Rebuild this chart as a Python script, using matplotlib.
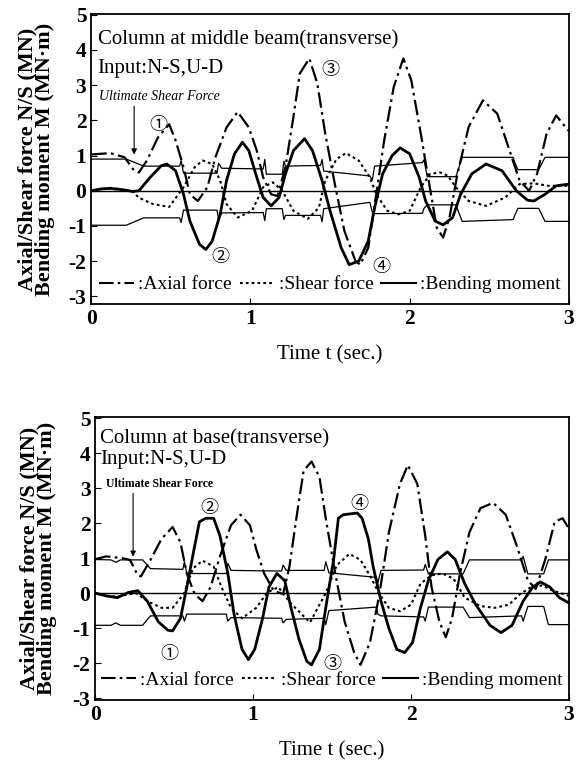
import matplotlib
matplotlib.use("Agg")
import matplotlib.pyplot as plt
from matplotlib.lines import Line2D

plt.rcParams['font.family'] = ['Liberation Serif', 'Noto Sans CJK JP', 'DejaVu Sans']
plt.rcParams['axes.unicode_minus'] = False

# ---- top panel: column at middle beam ----
top_axial_t = [0, 0.12, 0.21, 0.27, 0.30, 0.35, 0.42, 0.49, 0.53, 0.58, 0.62, 0.67, 0.73, 0.78, 0.85, 0.92,
               0.99, 1.04, 1.08, 1.13, 1.17, 1.22, 1.27, 1.31, 1.37, 1.42, 1.47, 1.53, 1.59, 1.66, 1.69, 1.74,
               1.79, 1.84, 1.90, 1.96, 2.01, 2.07, 2.13, 2.17, 2.21, 2.25, 2.30, 2.37, 2.46, 2.55, 2.62, 2.69,
               2.75, 2.80, 2.86, 2.92, 2.98, 3.0]
top_axial = [1.03, 1.07, 0.95, 0.57, 0.52, 0.86, 1.52, 1.89, 1.43, 0.67, -0.10, -0.29, 0.10, 0.95, 1.80, 2.24,
             1.80, 1.14, 0.38, -0.10, -0.15, 0.67, 2.10, 3.33, 3.76, 3.05, 1.62, 0.19, -1.14, -2.0, -2.1, -1.62,
             -0.10, 1.43, 2.95, 3.76, 3.14, 1.62, 0.0, -1.05, -1.33, -0.76, 0.48, 1.81, 2.57, 2.19, 1.24, 0.29,
             0.0, 0.48, 1.62, 2.14, 1.80, 1.70]

top_shear_t = [0, 0.06, 0.12, 0.2, 0.26, 0.30, 0.39, 0.49, 0.58, 0.65, 0.70, 0.76, 0.81, 0.85, 0.92, 1.01,
               1.08, 1.14, 1.20, 1.27, 1.36, 1.43, 1.47, 1.54, 1.60, 1.68, 1.75, 1.79, 1.86, 1.93, 2.00, 2.07,
               2.13, 2.19, 2.24, 2.29, 2.37, 2.48, 2.60, 2.69, 2.78, 2.87, 3.0]
top_shear = [0.0, 0.05, 0.06, 0.02, -0.02, -0.2, -0.38, -0.46, 0.10, 0.67, 0.86, 0.76, 0.29, -0.38, -0.76, -0.57,
             0.10, 0.24, 0.0, -0.57, -0.80, -0.48, 0.29, 0.90, 1.07, 0.86, 0.38, -0.10, -0.57, -0.67, -0.57, 0.10,
             0.48, 0.52, 0.43, 0.10, -0.29, -0.43, -0.19, 0.19, 0.21, 0.14, 0.14]

top_moment_t = [0, 0.06, 0.12, 0.2, 0.26, 0.30, 0.37, 0.44, 0.475, 0.53, 0.58, 0.62, 0.68, 0.72, 0.76, 0.81,
                0.85, 0.90, 0.95, 0.99, 1.04, 1.08, 1.13, 1.18, 1.22, 1.27, 1.34, 1.39, 1.45, 1.50, 1.57, 1.62,
                1.68, 1.74, 1.78, 1.83, 1.89, 1.94, 2.00, 2.06, 2.10, 2.16, 2.21, 2.27, 2.32, 2.39, 2.48, 2.58,
                2.67, 2.74, 2.78, 2.85, 2.92, 3.0]
top_moment = [0.0, 0.05, 0.07, 0.03, -0.02, 0.0, 0.38, 0.71, 0.76, 0.57, -0.10, -0.86, -1.52, -1.67, -1.43, -0.67,
              0.29, 1.05, 1.38, 1.14, 0.38, -0.19, -0.43, -0.19, 0.48, 1.14, 1.48, 1.14, 0.29, -0.57, -1.62, -2.10,
              -2.0, -1.43, -0.48, 0.48, 1.0, 1.22, 1.05, 0.38, -0.29, -0.86, -0.97, -0.76, -0.10, 0.48, 0.76, 0.57,
              0.0, -0.27, -0.29, -0.10, 0.14, 0.19]

top_env_t = [0, 0.22, 0.33, 0.555, 0.565, 0.58, 0.79, 0.80, 0.82, 1.08, 1.09, 1.10, 1.20, 1.21, 1.22, 1.44,
             1.45, 1.46, 1.75, 1.765, 1.78, 2.08, 2.09, 2.11, 2.29, 2.33, 2.65, 2.66, 2.68, 2.81, 2.85, 3.0]
top_env_hi = [0.9, 0.9, 0.7, 0.7, 0.85, 0.5, 0.5, 0.78, 0.64, 0.62, 0.89, 0.47, 0.47, 0.84, 0.7, 0.72,
              0.89, 0.56, 0.42, 0.3, 0.7, 0.8, 0.88, 0.4, 0.4, 0.95, 0.95, 0.8, 0.6, 0.6, 0.95, 0.95]
top_env_lo = [-0.98, -0.98, -0.77, -0.77, -0.9, -0.55, -0.55, -0.8, -0.63, -0.62, -0.85, -0.51, -0.51, -0.82, -0.7, -0.7,
              -0.88, -0.51, -0.33, -0.6, -0.65, -0.64, -0.5, -0.4, -0.4, -0.87, -0.82, -0.7, -0.5, -0.5, -0.87, -0.87]

# ---- bottom panel: column at base ----
bot_axial_t = [0, 0.07, 0.17, 0.22, 0.27, 0.29, 0.35, 0.42, 0.49, 0.54, 0.58, 0.63, 0.68, 0.73, 0.79, 0.86,
               0.92, 0.98, 1.02, 1.07, 1.13, 1.19, 1.23, 1.28, 1.32, 1.37, 1.42, 1.46, 1.52, 1.58, 1.64, 1.68,
               1.74, 1.80, 1.86, 1.93, 1.98, 2.04, 2.09, 2.13, 2.18, 2.22, 2.26, 2.31, 2.37, 2.44, 2.52, 2.60,
               2.67, 2.74, 2.79, 2.85, 2.91, 2.96, 3.0]
bot_axial = [0.97, 1.05, 1.0, 0.95, 0.51, 0.48, 0.95, 1.55, 1.89, 1.45, 0.56, -0.03, -0.23, 0.17, 1.05, 1.94,
             2.24, 1.94, 1.25, 0.56, 0.07, -0.03, 0.76, 2.33, 3.5, 3.76, 3.32, 2.14, 0.56, -0.82, -1.70, -2.05,
             -1.41, -0.03, 1.74, 3.12, 3.66, 3.12, 1.64, 0.17, -0.82, -1.26, -0.72, 0.56, 1.74, 2.43, 2.58, 2.24,
             1.35, 0.36, 0.12, 0.96, 2.04, 2.14, 1.84]

bot_shear_t = [0, 0.07, 0.14, 0.21, 0.26, 0.33, 0.42, 0.49, 0.56, 0.62, 0.68, 0.75, 0.80, 0.86, 0.93, 1.02,
               1.09, 1.16, 1.24, 1.36, 1.46, 1.53, 1.61, 1.68, 1.74, 1.80, 1.86, 1.93, 2.0, 2.06, 2.13, 2.20,
               2.27, 2.34, 2.44, 2.53, 2.62, 2.69, 2.76, 2.83, 2.90, 3.0]
bot_shear = [0.0, -0.08, -0.1, -0.04, 0.0, -0.23, -0.42, -0.42, -0.03, 0.71, 0.93, 0.76, 0.17, -0.42, -0.72, -0.42,
             0.02, 0.17, -0.3, -0.84, 0.0, 0.8, 1.12, 0.95, 0.5, -0.03, -0.42, -0.52, -0.33, 0.27, 0.51, 0.56,
             0.41, -0.13, -0.37, -0.42, -0.33, -0.03, 0.17, 0.22, 0.07, -0.08]

bot_moment_t = [0, 0.07, 0.14, 0.21, 0.27, 0.33, 0.40, 0.46, 0.49, 0.54, 0.58, 0.63, 0.66, 0.70, 0.75, 0.79,
                0.84, 0.88, 0.93, 0.97, 1.01, 1.06, 1.10, 1.15, 1.20, 1.24, 1.29, 1.34, 1.37, 1.42, 1.46, 1.51,
                1.54, 1.57, 1.66, 1.69, 1.73, 1.76, 1.81, 1.86, 1.91, 1.96, 2.01, 2.06, 2.11, 2.17, 2.23, 2.28,
                2.34, 2.41, 2.50, 2.57, 2.64, 2.71, 2.77, 2.82, 2.88, 2.94, 3.0]
bot_moment = [0.0, -0.08, -0.13, 0.02, 0.07, -0.23, -0.82, -1.06, -1.08, -0.72, 0.17, 1.35, 2.04, 2.14, 2.14, 1.64,
              0.56, -0.62, -1.61, -1.90, -1.61, -0.72, 0.17, 0.56, 0.36, -0.42, -1.31, -1.95, -2.05, -1.61, -0.42, 0.96,
              2.14, 2.24, 2.29, 2.14, 1.55, 0.76, -0.23, -1.01, -1.61, -1.70, -1.41, -0.42, 0.36, 0.96, 1.18, 0.96,
              0.27, -0.33, -0.92, -1.13, -0.92, -0.23, 0.17, 0.32, 0.17, -0.13, -0.28]

bot_env_t = [0, 0.1, 0.13, 0.16, 0.30, 0.35, 0.555, 0.565, 0.58, 0.83, 0.84, 0.86, 1.18, 1.19, 1.21, 1.45,
             1.46, 1.48, 1.78, 1.79, 1.81, 2.08, 2.09, 2.11, 2.33, 2.37, 2.70, 2.71, 2.74, 2.84, 2.87, 3.0]
bot_env_hi = [0.96, 0.95, 0.88, 0.95, 0.95, 0.7, 0.68, 0.9, 0.56, 0.56, 0.85, 0.65, 0.63, 0.8, 0.65, 0.65,
              0.9, 0.58, 0.45, 0.3, 0.65, 0.66, 0.82, 0.55, 0.55, 0.95, 0.95, 1.05, 0.55, 0.55, 0.95, 0.95]
bot_env_lo = [-0.92, -0.92, -0.85, -0.92, -0.92, -0.65, -0.65, -0.8, -0.6, -0.6, -0.8, -0.7, -0.72, -0.85, -0.75, -0.72,
              -0.9, -0.5, -0.4, -0.6, -0.65, -0.68, -0.8, -0.4, -0.4, -0.7, -0.65, -0.8, -0.38, -0.38, -0.9, -0.9]

xticks = [0, 1, 2, 3]
yticks = [-3, -2, -1, 0, 1, 2, 3, 4, 5]

AXIAL_LS = (0, (7, 2, 1.2, 2))
SHEAR_LS = (0, (1.3, 1.5))


def draw_panel(ax, env_t, env_hi, env_lo, ax_t, ax_v, sh_t, sh_v, m_t, m_v, ylim):
    ax.axhline(0, color='black', lw=1.0)
    ax.plot(env_t, env_hi, color='black', lw=0.9)
    ax.plot(env_t, env_lo, color='black', lw=0.9)
    ax.plot(ax_t, ax_v, color='black', lw=1.6, linestyle=AXIAL_LS)
    ax.plot(sh_t, sh_v, color='black', lw=1.5, linestyle=SHEAR_LS)
    ax.plot(m_t, m_v, color='black', lw=2.0)
    ax.set_xlim(0, 3)
    ax.set_ylim(*ylim)
    ax.set_xticks(xticks)
    ax.set_yticks(yticks)
    ax.tick_params(direction='in', length=4, labelsize=15.5, top=False, right=False)
    for lab in ax.get_xticklabels() + ax.get_yticklabels():
        lab.set_fontweight('bold')
    for sp in ax.spines.values():
        sp.set_linewidth(1.3)
    ax.set_xlabel('Time t (sec.)', fontsize=15, labelpad=12)
    ax.set_ylabel('Axial/Shear force N/S (MN)\nBending moment M (MN·m)', fontsize=16,
                  fontweight='bold', linespacing=0.85)
    handles = [Line2D([], [], color='black', lw=1.5, linestyle=AXIAL_LS),
               Line2D([], [], color='black', lw=1.5, linestyle=SHEAR_LS),
               Line2D([], [], color='black', lw=1.5)]
    ax.legend(handles, [':Axial force', ':Shear force', ':Bending moment'], loc='lower center',
              ncol=3, frameon=False, fontsize=14, handlelength=1.8, handletextpad=0.2,
              columnspacing=0.4, borderaxespad=0.15)


fig = plt.figure(figsize=(5.77, 7.64), dpi=100)
ax1 = fig.add_axes([0.158, 0.602, 0.828, 0.380])
ax2 = fig.add_axes([0.165, 0.084, 0.821, 0.370])

draw_panel(ax1, top_env_t, top_env_hi, top_env_lo, top_axial_t, top_axial, top_shear_t, top_shear,
           top_moment_t, top_moment, (-3.22, 5.03))
draw_panel(ax2, bot_env_t, bot_env_hi, bot_env_lo, bot_axial_t, bot_axial, bot_shear_t, bot_shear,
           bot_moment_t, bot_moment, (-3.05, 5.03))
ax1.yaxis.set_label_coords(-0.075, 0.5)
ax2.yaxis.set_label_coords(-0.08, 0.5)

# top annotations
ax1.text(0.04, 4.29, 'Column at middle beam(transverse)', fontsize=15, va='center')
ax1.text(0.04, 3.48, 'Input:N-S,U-D', fontsize=15, va='center')
ax1.text(0.05, 2.67, 'Ultimate Shear Force', fontsize=10, style='italic', va='center')
ax1.annotate('', xy=(0.27, 0.95), xytext=(0.27, 2.48),
             arrowprops=dict(arrowstyle='-|>', color='black', lw=0.8, mutation_scale=8))
for s, x, y in [('①', 0.42, 1.86), ('②', 0.81, -1.9), ('③', 1.50, 3.43), ('④', 1.82, -2.19)]:
    ax1.text(x, y, s, fontsize=13, ha='center', va='center')

# bottom annotations
ax2.text(0.03, 4.40, 'Column at base(transverse)', fontsize=15, va='center')
ax2.text(0.03, 3.81, 'Input:N-S,U-D', fontsize=15, va='center')
ax2.text(0.07, 3.12, 'Ultimate Shear Force', fontsize=8.5, fontweight='bold', va='center')
ax2.annotate('', xy=(0.24, 0.96), xytext=(0.24, 2.93),
             arrowprops=dict(arrowstyle='-|>', color='black', lw=0.8, mutation_scale=8))
for s, x, y in [('①', 0.47, -1.75), ('②', 0.72, 2.43), ('③', 1.50, -2.05), ('④', 1.67, 2.53)]:
    ax2.text(x, y, s, fontsize=13, ha='center', va='center')

fig.savefig('out.png', dpi=100)
